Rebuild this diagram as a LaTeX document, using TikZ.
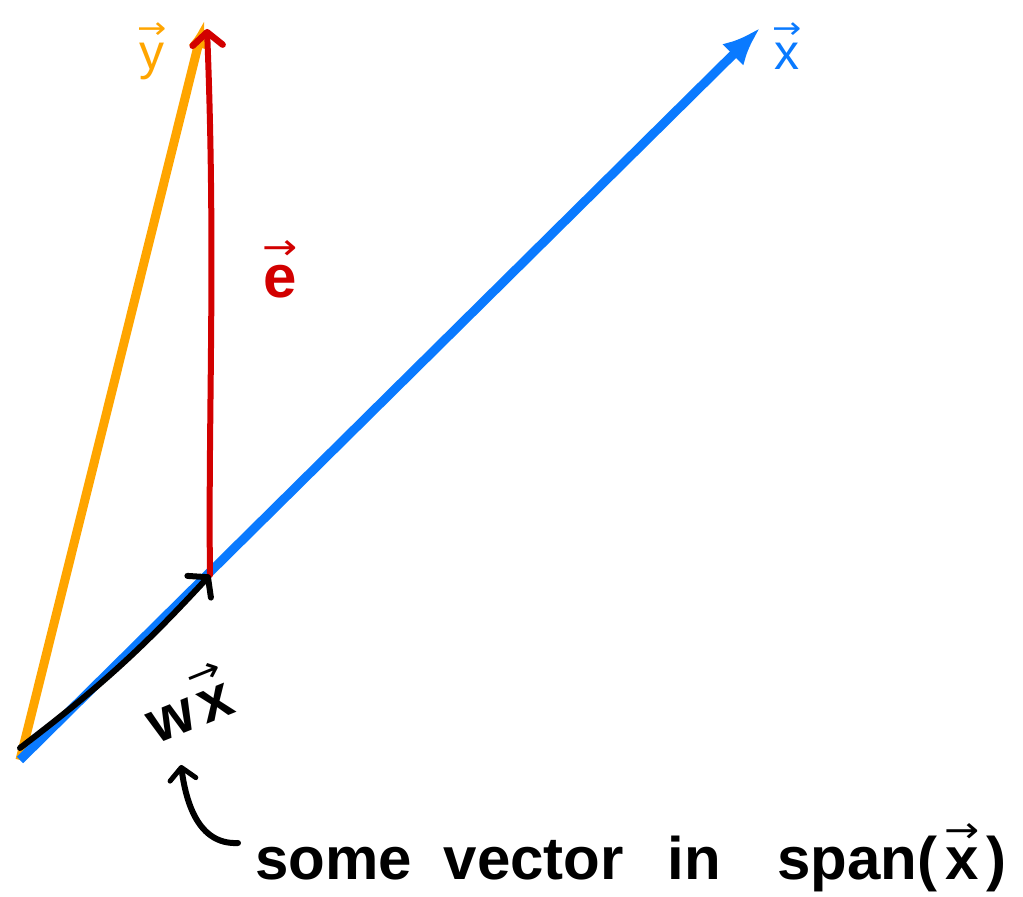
\documentclass[tikz,border=0pt]{standalone}
\usepackage{fontspec}
\setmainfont{Liberation Sans}
\newfontfamily\arrowfont{DejaVu Sans}
\usetikzlibrary{arrows.meta}
\definecolor{VecBlue}{RGB}{10,122,255}
\definecolor{VecOrange}{RGB}{255,165,0}
\definecolor{VecRed}{RGB}{210,0,0}
\newcommand{\vlabel}[1]{\leavevmode\vbox{\offinterlineskip
  \halign{\hfil##\hfil\cr{\arrowfont\mdseries\scalebox{0.7}[0.6]{→}}\cr
  \noalign{\kern0.1em}#1\cr}}}

\begin{document}
\begin{tikzpicture}[x=1pt,y=1pt,
  vecline/.style={line width=9pt},
  hand/.style={line width=6pt, line cap=round, black},
  vectext/.style={font=\fontsize{50}{60}\selectfont, inner sep=0pt},
  handtext/.style={font=\fontsize{60}{66}\selectfont\bfseries, inner sep=0pt}]
  \path[use as bounding box] (0,0) rectangle (1023,897);
  % the two vectors from the origin
  \coordinate (O) at (20,137);
  \coordinate (Xtip) at (760,869);
  \coordinate (Ytip) at (205,879);
  \coordinate (P) at (210,322);
  \coordinate (Etip) at (207,868);
  \coordinate (Wstart) at (20,149);
  \draw[vecline, VecOrange, -{Latex[length=30pt,width=18pt]}] (O) -- (Ytip);
  \draw[vecline, VecBlue, -{Latex[length=38pt,width=30pt]}] (O) -- (Xtip);
  % error vector and the part along x
  \draw[VecRed, line width=6pt, line cap=round,
        -{Straight Barb[length=13pt,width=30pt,line width=6.5pt,round]}]
        (P) .. controls (208,480) and (216,640) .. (Etip);
  \draw[hand, -{Straight Barb[length=13pt,width=32pt,line width=6pt,round]}]
        (Wstart) to[bend right=5] (P);
  % labels
  \node[vectext, text=VecOrange] (ylab) at (152,846) {\vlabel{y}};
  \node[vectext, text=VecBlue] (xlab) at (787,851) {\vlabel{x}};
  \node[handtext, text=VecRed] (elab) at (280,628) {\vlabel{e}};
  \node[handtext, rotate=22] (wxlab) at (187,195) {w\hspace{6pt}\vlabel{x}};
  \node[handtext, anchor=base west] (note) at (255,17)
    {some\hspace{32pt}vector\hspace{44pt}in\hspace{56pt}span(\hspace{7pt}\vlabel{x}\hspace{7pt})};
  \coordinate (hookend) at (238,54);
  \coordinate (hooktip) at (181,132);
  \draw[hand, -{Straight Barb[length=12pt,width=26pt,line width=5pt,round]}]
        (hookend) .. controls (198,52) and (186,95) .. (hooktip);
\end{tikzpicture}
\end{document}
